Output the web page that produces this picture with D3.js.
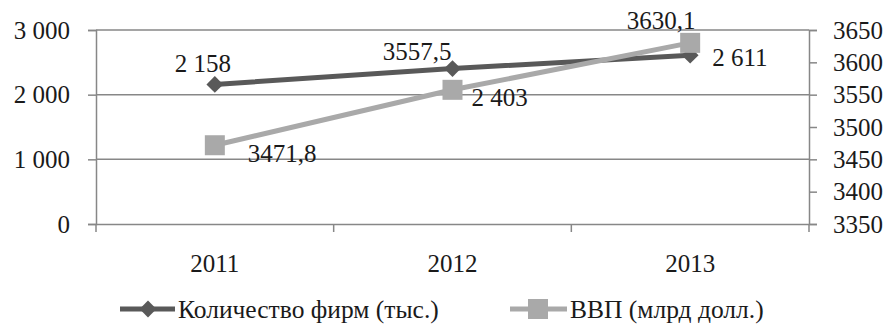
<!DOCTYPE html>
<html><head><meta charset="utf-8">
<script src="https://cdn.jsdelivr.net/npm/d3@7"></script>
<style>
html,body{margin:0;padding:0;background:#fff;}
</style></head>
<body>
<svg id="chart" width="891" height="325"></svg>
<script>
const categories = ["2011", "2012", "2013"];
const firms = [2158, 2403, 2611];
const gdp = [3471.8, 3557.5, 3630.1];
const firmLabels = ["2 158", "2 403", "2 611"];
const gdpLabels = ["3471,8", "3557,5", "3630,1"];
const leftTicks = [0, 1000, 2000, 3000];
const leftTickLabels = ["0", "1 000", "2 000", "3 000"];
const rightTicks = [3350, 3400, 3450, 3500, 3550, 3600, 3650];
const seriesNames = ["Количество фирм (тыс.)", "ВВП (млрд долл.)"];

const svg = d3.select("#chart");
const L = 96, R = 809, T = 30, B = 224;
const FS = 25, LFS = 25.5;
const FONT = "'Liberation Serif', 'DejaVu Serif', serif";
const gridColor = "#878787";
const darkColor = "#595959";
const lightColor = "#a9a9a9";

const x = d3.scaleBand().domain(categories).range([L, R]);
const yL = d3.scaleLinear().domain([0, 3000]).range([B, T]);
const yR = d3.scaleLinear().domain([3350, 3650]).range([B, T]);
const cx = c => x(c) + x.bandwidth() / 2;

svg.append("g").selectAll("line").data(leftTicks.slice(1)).join("line")
  .attr("x1", L).attr("x2", R).attr("y1", d => yL(d)).attr("y2", d => yL(d))
  .attr("stroke", gridColor).attr("stroke-width", 1.5);

const gl = svg.append("g").attr("transform", `translate(${L},0)`)
  .call(d3.axisLeft(yL).tickValues(leftTicks).tickSize(8).tickPadding(18)
    .tickFormat((d, i) => leftTickLabels[i]));
gl.select(".domain").attr("stroke", gridColor).attr("stroke-width", 1.5);
gl.selectAll(".tick line").attr("stroke", gridColor).attr("stroke-width", 1.5);

const gr = svg.append("g").attr("transform", `translate(${R},0)`)
  .call(d3.axisRight(yR).tickValues(rightTicks).tickSize(8).tickPadding(16)
    .tickFormat(d3.format("d")));
gr.select(".domain").attr("stroke", gridColor).attr("stroke-width", 1.5);
gr.selectAll(".tick line").attr("stroke", gridColor).attr("stroke-width", 1.5);

const gb = svg.append("g").attr("transform", `translate(0,${B})`)
  .call(d3.axisBottom(x).tickSize(0).tickPadding(30));
gb.select(".domain").attr("stroke", gridColor).attr("stroke-width", 1.5);

const bounds = categories.map(c => x(c)).concat([R]);
svg.append("g").selectAll("line").data(bounds).join("line")
  .attr("x1", d => d).attr("x2", d => d).attr("y1", B).attr("y2", B + 8)
  .attr("stroke", gridColor).attr("stroke-width", 1.5);

const line1 = d3.line().x((d, i) => cx(categories[i])).y(d => yL(d));
svg.append("path").datum(firms).attr("d", line1)
  .attr("fill", "none").attr("stroke", darkColor).attr("stroke-width", 5);
const diamond = d3.symbol().type(d3.symbolDiamond2).size(180);
svg.append("g").selectAll("path").data(firms).join("path")
  .attr("d", diamond)
  .attr("transform", (d, i) => `translate(${cx(categories[i])},${yL(d)})`)
  .attr("fill", darkColor);

const line2 = d3.line().x((d, i) => cx(categories[i])).y(d => yR(d));
svg.append("path").datum(gdp).attr("d", line2)
  .attr("fill", "none").attr("stroke", lightColor).attr("stroke-width", 5);
const sq = 20;
svg.append("g").selectAll("rect").data(gdp).join("rect")
  .attr("x", (d, i) => cx(categories[i]) - sq / 2)
  .attr("y", d => yR(d) - sq / 2)
  .attr("width", sq).attr("height", sq)
  .attr("fill", lightColor);

const firmOff = [[-12, -12, "middle"], [19, 37, "start"], [22, 11, "start"]];
const gdpOff = [[33, 17, "start"], [-1, -30, "end"], [-29, -14, "middle"]];
svg.append("g").selectAll("text").data(firms).join("text")
  .attr("x", (d, i) => cx(categories[i]) + firmOff[i][0])
  .attr("y", (d, i) => yL(d) + firmOff[i][1])
  .attr("text-anchor", (d, i) => firmOff[i][2])
  .text((d, i) => firmLabels[i]);
svg.append("g").selectAll("text").data(gdp).join("text")
  .attr("x", (d, i) => cx(categories[i]) + gdpOff[i][0])
  .attr("y", (d, i) => yR(d) + gdpOff[i][1])
  .attr("text-anchor", (d, i) => gdpOff[i][2])
  .text((d, i) => gdpLabels[i]);

svg.selectAll("text")
  .style("font-family", FONT)
  .style("font-size", FS + "px")
  .style("fill", "#1a1a1a");

const lg = svg.append("g");
const ly = 309;
lg.append("line").attr("x1", 120).attr("x2", 175).attr("y1", ly).attr("y2", ly)
  .attr("stroke", darkColor).attr("stroke-width", 5);
lg.append("path").attr("d", diamond).attr("transform", `translate(148,${ly})`).attr("fill", darkColor);
lg.append("text").attr("x", 178).attr("y", ly + 9).text(seriesNames[0]);
lg.append("line").attr("x1", 510).attr("x2", 567).attr("y1", ly).attr("y2", ly)
  .attr("stroke", lightColor).attr("stroke-width", 5);
lg.append("rect").attr("x", 538 - sq / 2).attr("y", ly - sq / 2).attr("width", sq).attr("height", sq).attr("fill", lightColor);
lg.append("text").attr("x", 570).attr("y", ly + 9).text(seriesNames[1]);
lg.selectAll("text")
  .style("font-family", FONT)
  .style("font-size", LFS + "px")
  .style("fill", "#1a1a1a");
</script>
</body></html>
